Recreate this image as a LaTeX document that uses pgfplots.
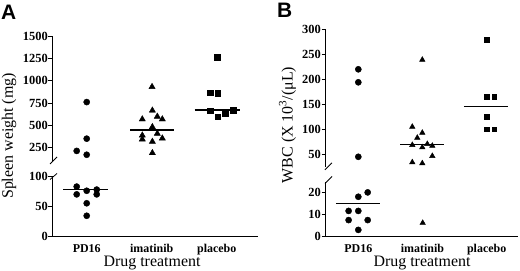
\documentclass[border=0pt]{standalone}
\usepackage{fontspec}
\setmainfont{Liberation Serif}
\newfontfamily\arial{Liberation Sans}
\usepackage{pgfplots}
\pgfplotsset{compat=1.18}

\pgfplotsset{
  seg/.style={
    scale only axis, clip=false,
    axis y line*=left,
    tick align=outside,
    major tick length=3.5bp,
    axis line style={line width=0.8bp},
    every tick/.style={black, line width=0.8bp},
    y tick label style={font=\fontsize{12.5}{12.5}\selectfont, anchor=east, inner sep=0.5bp},
    yticklabel={\textbf{\pgfmathprintnumber[fixed, precision=0, 1000 sep={}, assume math mode=true]{\tick}}},
    scaled y ticks=false,
  },
  upper/.style={seg, axis x line=none},
  lower/.style={seg, axis x line*=bottom,
    xtick={1,2,3}, xticklabels={\textbf{PD16},\textbf{imatinib},\textbf{placebo}},
    x tick style={draw=none},
    x tick label style={font=\fontsize{12}{12}\selectfont, anchor=base, yshift=-13bp}},
  dots/.style={only marks, mark=*, mark size=3.1, black},
  tris/.style={only marks, mark=triangle*, mark size=3.6, black},
  sqs/.style={only marks, mark=square*, mark size=2.7, black},
  med/.style={black, line width=1.3bp},
}

\begin{document}
\begin{tikzpicture}
\useasboundingbox (0,0) rectangle (520bp,271bp);

% ---- panel A, top part
\begin{axis}[upper, at={(52bp,110bp)}, anchor=south west,
  width=206bp, height=125bp, xmin=0.466, xmax=3.635, ymin=100, ymax=1500,
  ytick={250,500,750,1000,1250,1500}]
\addplot[dots] coordinates {(1,760) (1,350) (0.846,213) (1,170)};
\addplot[tris] coordinates {(2.005,931) (2.01,666) (1.855,568) (2.086,598) (2.163,568)
  (2.01,481) (1.855,387) (2.086,407) (1.855,343) (2.01,317) (2.163,354) (2.01,190)};
\addplot[sqs] coordinates {(3.01,1262) (2.897,868) (3.015,860) (2.897,661) (3.015,593)
  (3.13,635) (3.255,669)};
\addplot[med] coordinates {(1.67,446) (2.34,446)};
\addplot[med] coordinates {(2.66,672) (3.36,672)};
\draw[line width=0.8bp] ([xshift=-2bp,yshift=-3bp]rel axis cs:0,0) -- ++(7bp,7bp);
\end{axis}

% ---- panel A, bottom part
\begin{axis}[lower, at={(52bp,35bp)}, anchor=south west,
  width=206bp, height=59.5bp, xmin=0.466, xmax=3.635, ymin=0, ymax=100,
  ytick={0,50,100}]
\addplot[dots] coordinates {(0.846,83) (1,76) (1.154,78) (0.846,70) (1.154,70) (1,55) (1,34)};
\addplot[med] coordinates {(0.64,78) (1.33,78)};
\draw[line width=0.8bp] ([xshift=-2bp,yshift=-3bp]rel axis cs:0,1) -- ++(7bp,6bp);
\end{axis}

% ---- panel B, top part
\begin{axis}[upper, at={(325bp,104.2bp)}, anchor=south west,
  width=193bp, height=137.5bp, xmin=0.481, xmax=3.488, ymin=25, ymax=300,
  ytick={50,100,150,200,250,300}]
\addplot[dots] coordinates {(1,220) (1,194) (1,45)};
\addplot[tris, mark size=3.2] coordinates {(1.997,239) (1.841,105) (1.997,93) (1.919,83)
  (1.841,68.6) (1.997,64) (2.075,70.6) (2.153,67) (2.153,46.6) (1.841,34) (1.997,32)};
\addplot[sqs, mark size=2.4] coordinates {(3,279) (3,165) (3.118,165) (3,125) (3,100) (3.118,100)};
\addplot[med] coordinates {(1.654,69) (2.34,69)};
\addplot[med] coordinates {(2.646,145) (3.336,145)};
\draw[line width=0.8bp] ([xshift=0bp,yshift=-3bp]rel axis cs:0,0) -- ++(7bp,7bp);
\end{axis}

% ---- panel B, bottom part
\begin{axis}[lower, at={(325bp,35bp)}, anchor=south west,
  width=193bp, height=54.5bp, xmin=0.481, xmax=3.488, ymin=0, ymax=25,
  ytick={0,10,20}]
\addplot[dots] coordinates {(1,18) (1.146,20) (0.849,11.5) (1,11.5) (0.849,7.3) (1.146,7.3) (1,2.8)};
\addplot[tris, mark size=3.2] coordinates {(2.003,6)};
\addplot[med] coordinates {(0.65,14.8) (1.34,14.8)};
\draw[line width=0.8bp] ([xshift=0bp,yshift=-2bp]rel axis cs:0,1) -- ++(7bp,7bp);
\end{axis}

% ---- labels
\node[rotate=90, font=\fontsize{16}{16}\selectfont] at (9bp,135bp) {Spleen weight (mg)};
\node[rotate=90, font=\fontsize{16}{16}\selectfont] at (287.5bp,146bp) {WBC (X 10\textsuperscript{3}/(μL)};
\node[anchor=base, inner sep=0, font=\fontsize{16}{16}\selectfont] at (152bp,4.5bp) {Drug treatment};
\node[anchor=base, inner sep=0, font=\fontsize{16}{16}\selectfont] at (422bp,4.5bp) {Drug treatment};
\node[anchor=base west, inner sep=0, font=\arial\bfseries\fontsize{21}{21}\selectfont] at (1bp,251bp) {A};
\node[anchor=base west, inner sep=0, font=\arial\bfseries\fontsize{21}{21}\selectfont] at (277bp,253bp) {B};
\end{tikzpicture}
\end{document}
